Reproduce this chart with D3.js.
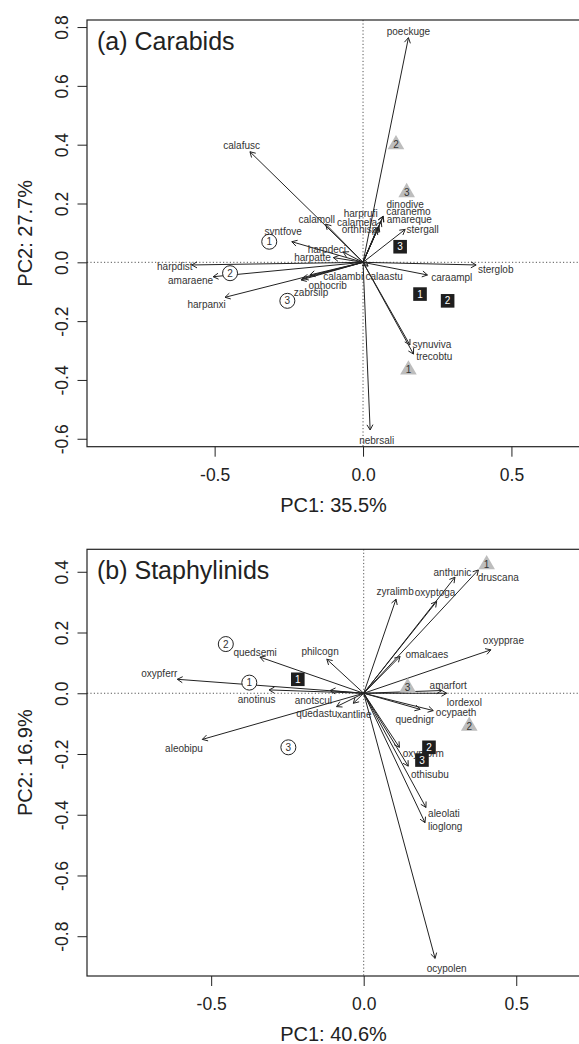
<html lang="en">
<head>
<meta charset="utf-8">
<title>PCA biplots</title>
<script src="https://d3js.org/d3.v7.min.js"></script>
<style>
  body { margin: 0; background: white; }
  text { font-family: "Liberation Sans", Arial, sans-serif; }
</style>
</head>
<body>
<script>
// ---- tick labels ----
var xTicks = [-0.5, 0.0, 0.5];
var carabYTicks = [-0.6, -0.4, -0.2, 0.0, 0.2, 0.4, 0.6, 0.8];
var staphYTicks = [-0.8, -0.6, -0.4, -0.2, 0.0, 0.2, 0.4];

// ---- (a) Carabids: species arrows ----
var carabSpecies = ["poeckuge","calafusc","calamoll","harprufi","calamela","orthhisp","dinodive","caranemo",
  "amareque","stergall","sterglob","caraampl","calaastu","calaambi","ophocrib","zabrsilp","harpanxi",
  "harpdist","amaraene","syntfove","harpdeci","harpatte","synuviva","trecobtu","nebrsali"];
var carabPC1 = [0.153,-0.381,-0.126,0.054,0.051,0.047,0.068,0.067,0.061,0.142,0.381,0.217,0.017,-0.179,
  -0.202,-0.209,-0.465,-0.577,-0.505,-0.240,-0.067,-0.100,0.158,0.170,0.024];
var carabPC2 = [0.764,0.376,0.130,0.123,0.120,0.113,0.157,0.156,0.140,0.112,-0.009,-0.043,-0.013,-0.043,
  -0.055,-0.060,-0.119,-0.009,-0.049,0.070,0.035,0.016,-0.281,-0.312,-0.570];
var carabLabelPC1 = [0.153,-0.409,-0.156,-0.008,-0.020,-0.012,0.142,0.153,0.156,0.201,0.447,0.299,0.071,
  -0.067,-0.119,-0.175,-0.527,-0.634,-0.581,-0.269,-0.122,-0.170,0.232,0.240,0.046];
var carabLabelPC2 = [0.786,0.397,0.144,0.167,0.135,0.110,0.198,0.172,0.146,0.112,-0.026,-0.051,-0.047,
  -0.049,-0.080,-0.102,-0.145,-0.015,-0.063,0.104,0.045,0.016,-0.281,-0.319,-0.607];

// ---- (a) Carabids: sites ----
var carabSiteType = ["circle","circle","circle","triangle","triangle","triangle","square","square","square"];
var carabSiteNum = [1, 2, 3, 2, 3, 1, 3, 1, 2];
var carabSitePC1 = [-0.316,-0.448,-0.255,0.111,0.147,0.153,0.125,0.192,0.285];
var carabSitePC2 = [0.070,-0.037,-0.131,0.401,0.238,-0.365,0.053,-0.108,-0.131];

// ---- (b) Staphylinids: species arrows ----
var staphSpecies = ["anthunic","druscana","zyralimb","oxyptoga","oxypprae","omalcaes","philcogn","quedsemi",
  "oxypferr","anotinus","anotscul","quedastu","xantline","aleobipu","amarfort","lordexol","ocypaeth",
  "quednigr","oxypform","othisubu","aleolati","lioglong","ocypolen"];
var staphPC1 = [0.299,0.376,0.106,0.239,0.417,0.119,-0.121,-0.340,-0.611,-0.310,-0.110,-0.089,-0.034,
  -0.529,0.256,0.272,0.228,0.185,0.117,0.146,0.204,0.201,0.234];
var staphPC2 = [0.382,0.406,0.310,0.302,0.143,0.121,0.112,0.119,0.046,0.011,0.009,-0.044,-0.033,-0.152,
  0.009,0.000,-0.057,-0.053,-0.178,-0.240,-0.376,-0.426,-0.873];
var staphLabelPC1 = [0.291,0.441,0.103,0.234,0.458,0.207,-0.143,-0.356,-0.670,-0.351,-0.165,-0.154,-0.031,
  -0.589,0.277,0.330,0.303,0.168,0.195,0.217,0.263,0.267,0.272];
var staphLabelPC2 = [0.399,0.381,0.335,0.331,0.173,0.126,0.137,0.134,0.066,-0.019,-0.024,-0.066,-0.071,
  -0.181,0.025,-0.030,-0.064,-0.088,-0.200,-0.269,-0.395,-0.440,-0.906];

// ---- (b) Staphylinids: sites ----
var staphSiteType = ["circle","circle","circle","triangle","triangle","triangle","square","square","square"];
var staphSiteNum = [1, 2, 3, 1, 2, 3, 1, 2, 3];
var staphSitePC1 = [-0.375,-0.452,-0.247,0.403,0.346,0.144,-0.216,0.214,0.191];
var staphSitePC2 = [0.035,0.162,-0.178,0.424,-0.108,0.019,0.046,-0.178,-0.220];

var w = 579, h = 1044;

var svg = d3.select("body").append("svg")
  .attr("width", w)
  .attr("height", h);

function drawPanel(p) {
  var xScale = d3.scaleLinear().domain(p.xDomain).range([p.left, p.right]);
  var yScale = d3.scaleLinear().domain(p.yDomain).range([p.bottom, p.top]);
  var g = svg.append("g");

  // zero lines
  g.append("line")
    .attr("x1", p.left).attr("x2", p.right)
    .attr("y1", yScale(0)).attr("y2", yScale(0))
    .attr("stroke", "#555").attr("stroke-dasharray", "1.2,2.2");
  g.append("line")
    .attr("x1", xScale(0)).attr("x2", xScale(0))
    .attr("y1", p.top).attr("y2", p.bottom)
    .attr("stroke", "#555").attr("stroke-dasharray", "1.2,2.2");

  // arrows
  var arrows = p.species.map(function(s, i) {
    return { name: s, x: p.pc1[i], y: p.pc2[i], lx: p.lpc1[i], ly: p.lpc2[i] };
  });
  var x0 = xScale(0), y0 = yScale(0);
  g.selectAll("line.arrow")
    .data(arrows).enter().append("line")
    .attr("class", "arrow")
    .attr("x1", x0).attr("y1", y0)
    .attr("x2", function(d) { return xScale(d.x); })
    .attr("y2", function(d) { return yScale(d.y); })
    .attr("stroke", "#222").attr("stroke-width", 1);
  g.selectAll("path.head")
    .data(arrows).enter().append("path")
    .attr("class", "head")
    .attr("d", function(d) {
      var tx = xScale(d.x), ty = yScale(d.y);
      var a = Math.atan2(ty - y0, tx - x0);
      var len = 6, sp = Math.PI / 6;
      return "M" + (tx - len * Math.cos(a - sp)) + "," + (ty - len * Math.sin(a - sp)) +
        "L" + tx + "," + ty +
        "L" + (tx - len * Math.cos(a + sp)) + "," + (ty - len * Math.sin(a + sp));
    })
    .attr("fill", "none").attr("stroke", "#222").attr("stroke-width", 1);
  g.selectAll("text.sp")
    .data(arrows).enter().append("text")
    .attr("class", "sp")
    .attr("x", function(d) { return xScale(d.lx); })
    .attr("y", function(d) { return yScale(d.ly); })
    .attr("dy", "0.35em")
    .attr("text-anchor", "middle")
    .attr("font-size", "10px")
    .attr("fill", "#333")
    .text(function(d) { return d.name; });

  // sites
  var sites = p.siteType.map(function(t, i) {
    return { type: t, num: p.siteNum[i], x: p.spc1[i], y: p.spc2[i] };
  });
  var sg = g.selectAll("g.site")
    .data(sites).enter().append("g")
    .attr("class", "site")
    .attr("transform", function(d) { return "translate(" + xScale(d.x) + "," + yScale(d.y) + ")"; });
  sg.filter(function(d) { return d.type === "circle"; })
    .append("circle").attr("r", 7.5)
    .attr("fill", "white").attr("stroke", "#222").attr("stroke-width", 1);
  sg.filter(function(d) { return d.type === "triangle"; })
    .append("path").attr("d", "M0,-9.5L8.3,4.8L-8.3,4.8Z")
    .attr("fill", "#bdbdbd");
  sg.filter(function(d) { return d.type === "square"; })
    .append("rect").attr("x", -6.8).attr("y", -6.8).attr("width", 13.6).attr("height", 13.6)
    .attr("fill", "#1e1e1e");
  sg.append("text")
    .attr("text-anchor", "middle")
    .attr("dy", "0.36em")
    .attr("font-size", "10px")
    .attr("fill", function(d) { return d.type === "square" ? "white" : "#333"; })
    .text(function(d) { return d.num; });

  // box
  g.append("rect")
    .attr("x", p.left).attr("y", p.top)
    .attr("width", p.right - p.left).attr("height", p.bottom - p.top)
    .attr("fill", "none").attr("stroke", "#222").attr("stroke-width", 1.2);

  // axes
  var xAxis = d3.axisBottom(xScale).tickValues(xTicks)
    .tickFormat(function(d) { return d.toFixed(1); })
    .tickSize(10).tickPadding(12);
  var xg = g.append("g")
    .attr("transform", "translate(0," + p.bottom + ")")
    .call(xAxis);
  xg.select(".domain").remove();
  xg.selectAll("line").attr("stroke", "#222");
  xg.selectAll("text").attr("font-size", "17.5px").attr("fill", "#222")
    .attr("font-family", "'Liberation Sans', Arial, sans-serif");

  var yAxis = d3.axisLeft(yScale).tickValues(p.yTicks)
    .tickFormat(function(d) { return d.toFixed(1); })
    .tickSize(9.5);
  var yg = g.append("g")
    .attr("transform", "translate(" + p.left + ",0)")
    .call(yAxis);
  yg.select(".domain").remove();
  yg.selectAll("line").attr("stroke", "#222");
  yg.selectAll("text")
    .attr("x", null).attr("dy", null)
    .attr("transform", "rotate(-90)")
    .attr("y", -19)
    .attr("text-anchor", "middle")
    .attr("font-size", "17.5px").attr("fill", "#222")
    .attr("font-family", "'Liberation Sans', Arial, sans-serif");

  // titles
  g.append("text")
    .attr("x", (p.left + p.right) / 2)
    .attr("y", p.bottom + 65)
    .attr("text-anchor", "middle")
    .attr("font-size", "20px").attr("fill", "#222")
    .text(p.xTitle);
  g.append("text")
    .attr("transform", "translate(32," + ((p.top + p.bottom) / 2) + ") rotate(-90)")
    .attr("text-anchor", "middle")
    .attr("font-size", "20px").attr("fill", "#222")
    .text(p.yTitle);
  g.append("text")
    .attr("x", p.left + 10)
    .attr("y", p.top + 30)
    .attr("font-size", "25px").attr("fill", "#222")
    .text(p.title);
}

drawPanel({
  title: "(a) Carabids", xTitle: "PC1: 35.5%", yTitle: "PC2: 27.7%",
  left: 87, right: 580, top: 20, bottom: 446.7,
  xDomain: [-0.930, 0.731], yDomain: [-0.627, 0.824], yTicks: carabYTicks,
  species: carabSpecies, pc1: carabPC1, pc2: carabPC2, lpc1: carabLabelPC1, lpc2: carabLabelPC2,
  siteType: carabSiteType, siteNum: carabSiteNum, spc1: carabSitePC1, spc2: carabSitePC2
});

drawPanel({
  title: "(b) Staphylinids", xTitle: "PC1: 40.6%", yTitle: "PC2: 16.9%",
  left: 87, right: 580, top: 549.3, bottom: 976,
  xDomain: [-0.907, 0.709], yDomain: [-0.931, 0.474], yTicks: staphYTicks,
  species: staphSpecies, pc1: staphPC1, pc2: staphPC2, lpc1: staphLabelPC1, lpc2: staphLabelPC2,
  siteType: staphSiteType, siteNum: staphSiteNum, spc1: staphSitePC1, spc2: staphSitePC2
});
</script>
</body>
</html>
